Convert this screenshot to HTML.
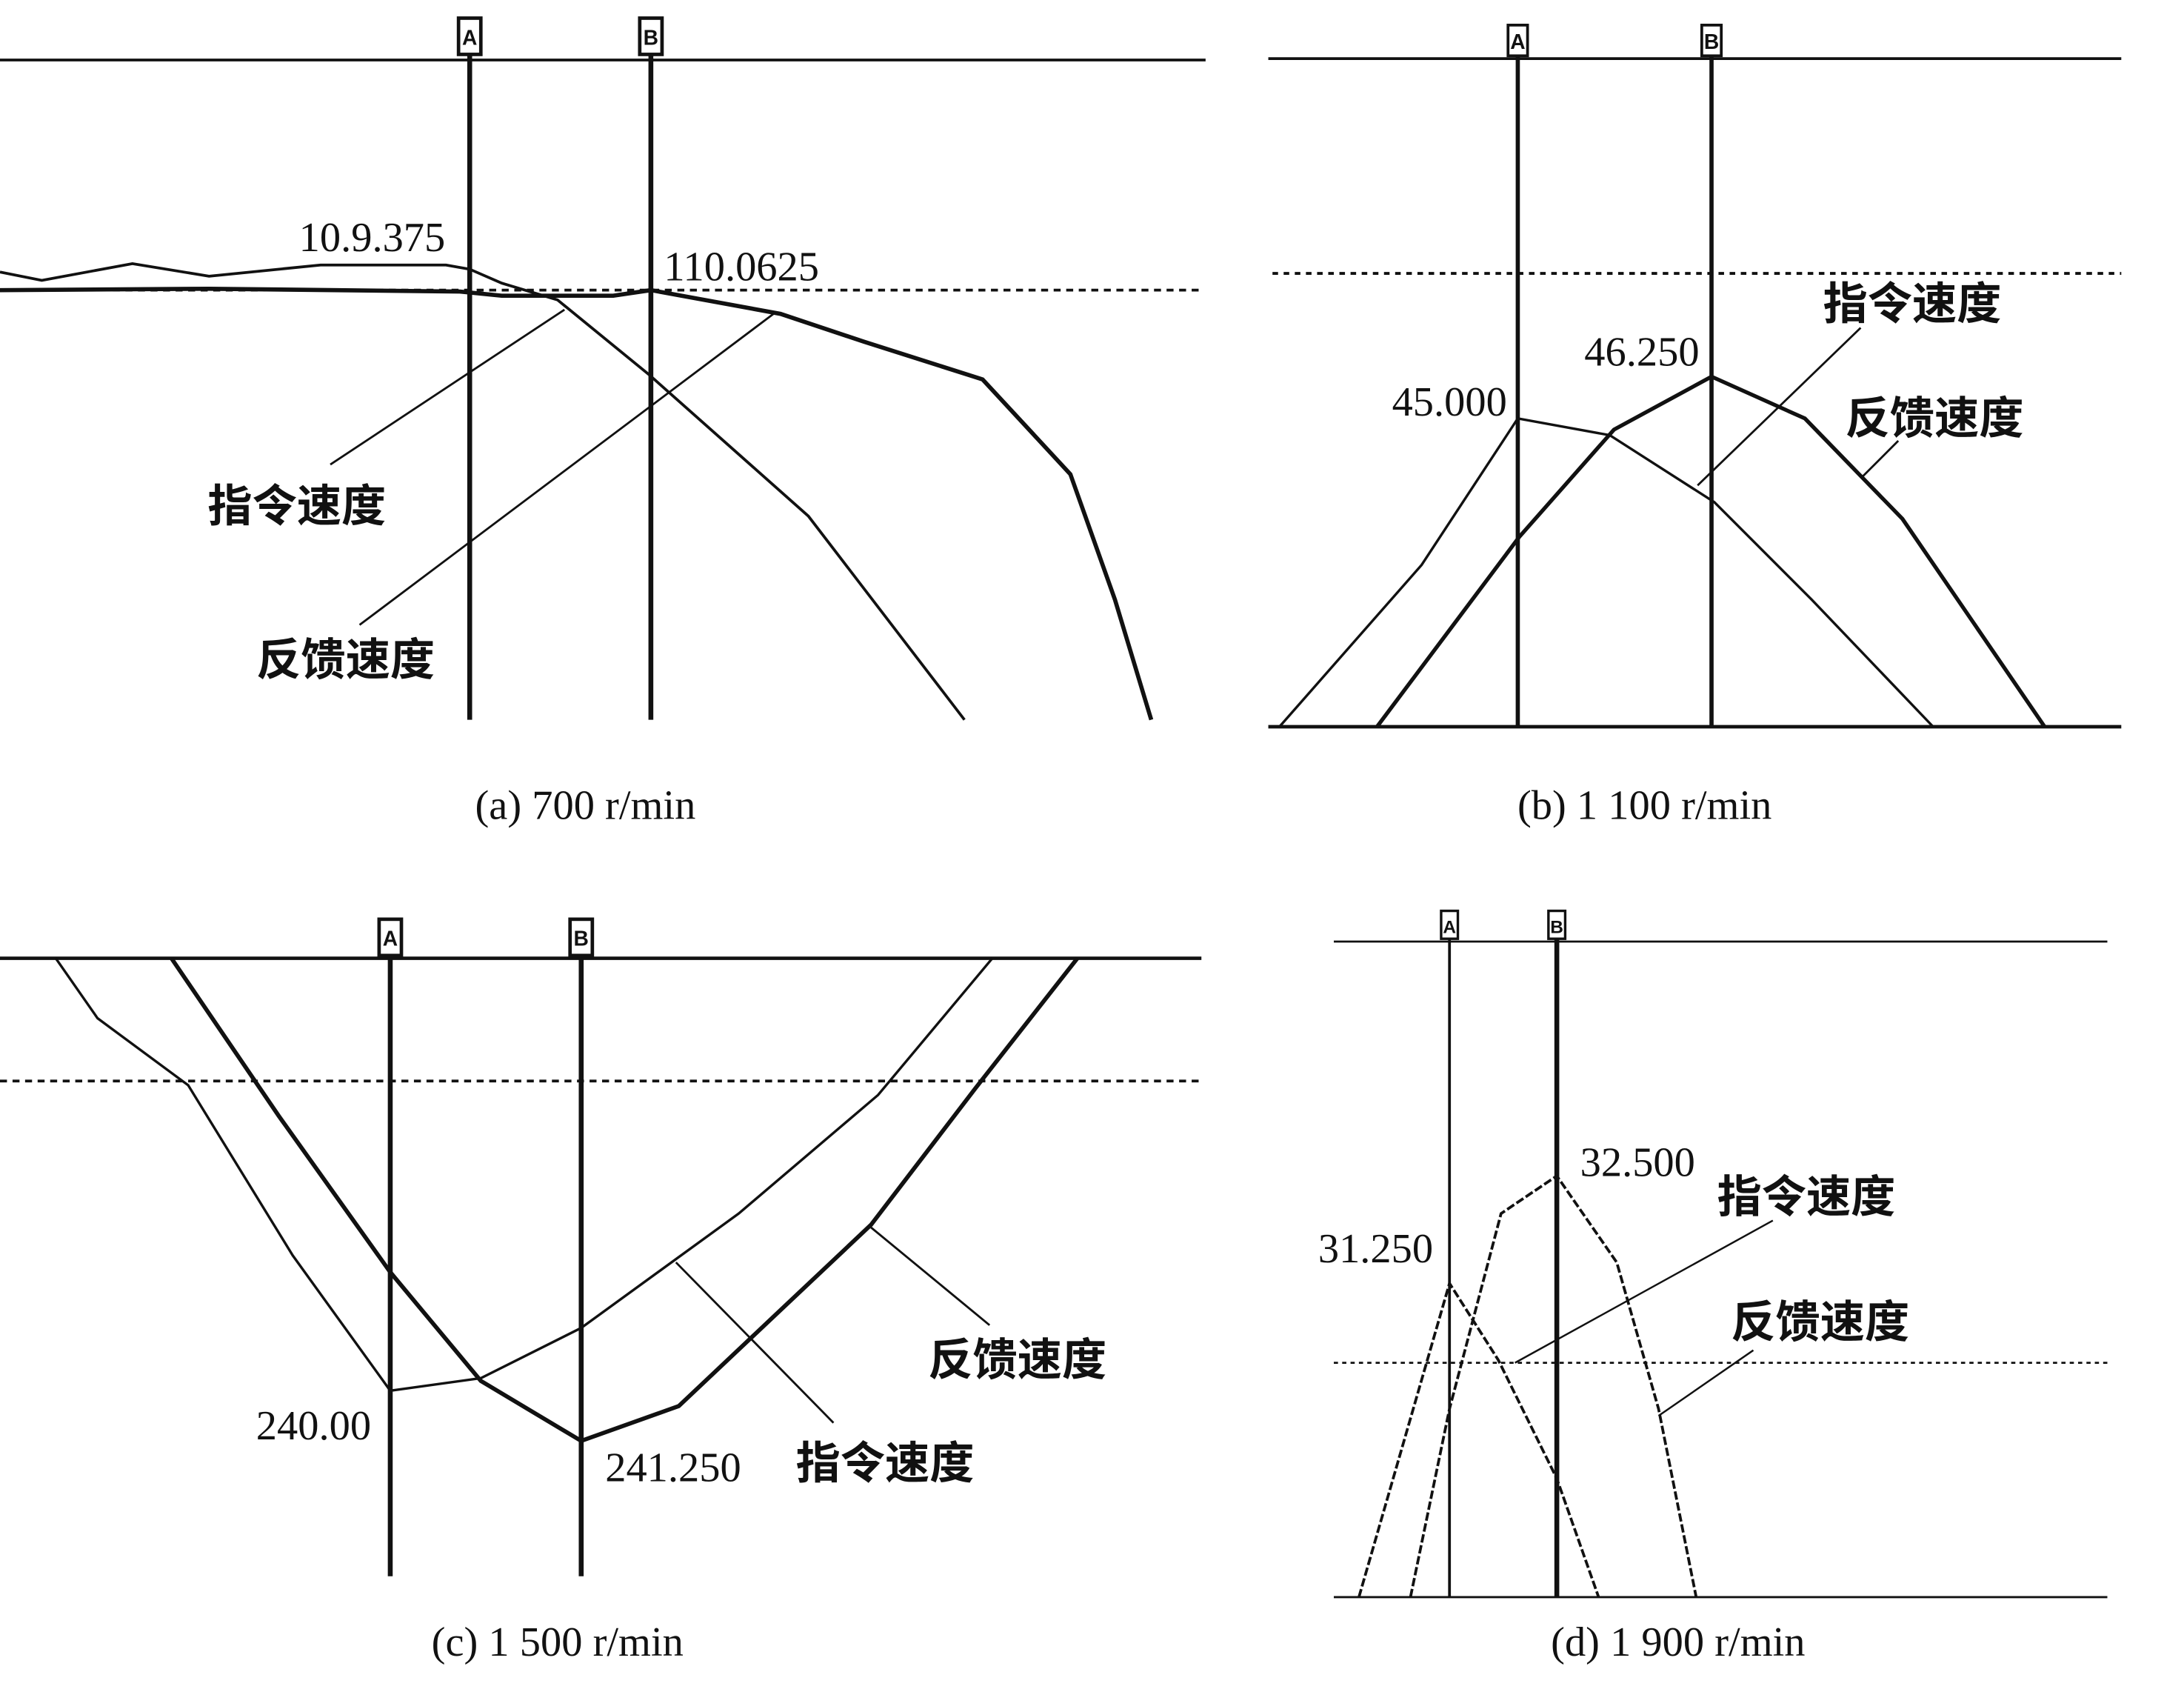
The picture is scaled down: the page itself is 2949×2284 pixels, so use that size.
<!DOCTYPE html>
<html><head><meta charset="utf-8"><style>
html,body{margin:0;padding:0;background:#fff;}
svg{display:block;}
.t{font-family:"Liberation Serif",serif;font-size:30px;fill:#111;}
.c{font-family:"Liberation Sans","Noto Sans CJK SC",sans-serif;font-size:32px;font-weight:bold;fill:#111;}
.mk{font-family:"Liberation Sans",sans-serif;font-size:15px;font-weight:bold;fill:#111;}
</style></head><body>
<svg width="2949" height="2284" viewBox="0 0 1567 1213" preserveAspectRatio="none" xmlns="http://www.w3.org/2000/svg">
<g fill="none" stroke="#111">
<line x1="0" y1="43" x2="865" y2="43" stroke-width="2"/>
<line x1="337" y1="40" x2="337" y2="516" stroke-width="3.5"/>
<line x1="467" y1="40" x2="467" y2="516" stroke-width="3.5"/>
<line x1="0" y1="208" x2="862" y2="208" stroke-width="2" stroke-dasharray="5,4"/>
<polyline stroke-width="2" points="0,195 30,201 95,189 150,198 230,190 320,190 337,193 360,203 400,215 465,268 580,370 692,516"/>
<polyline stroke-width="3" points="0,208 150,207 330,209 360,212 440,212 467,208 560,225 620,245 705,272 768,340 800,430 826,516"/>
<line x1="237" y1="333" x2="405" y2="222" stroke-width="1.5"/>
<line x1="258" y1="448" x2="555" y2="225" stroke-width="1.5"/>
<line x1="910" y1="42" x2="1522" y2="42" stroke-width="2"/>
<line x1="910" y1="521" x2="1522" y2="521" stroke-width="2.5"/>
<line x1="1089" y1="40" x2="1089" y2="521" stroke-width="3"/>
<line x1="1228" y1="40" x2="1228" y2="521" stroke-width="3"/>
<line x1="913" y1="196" x2="1522" y2="196" stroke-width="2" stroke-dasharray="4,4"/>
<polyline stroke-width="1.8" points="918,521 1020,405 1089,300 1155,312 1230,360 1300,430 1387,521"/>
<polyline stroke-width="2.8" points="988,521 1090,385 1158,308 1228,270 1295,300 1365,372 1467,521"/>
<line x1="1218" y1="348" x2="1335" y2="235" stroke-width="1.5"/>
<line x1="1336" y1="342" x2="1362" y2="316" stroke-width="1.5"/>
<line x1="0" y1="687" x2="862" y2="687" stroke-width="2.5"/>
<line x1="280" y1="685" x2="280" y2="1130" stroke-width="3.5"/>
<line x1="417" y1="685" x2="417" y2="1130" stroke-width="3.5"/>
<line x1="0" y1="775" x2="862" y2="775" stroke-width="2" stroke-dasharray="5,4"/>
<polyline stroke-width="1.8" points="40,687 70,730 135,778 210,900 280,997 345,988 417,952 530,870 630,785 712,687"/>
<polyline stroke-width="3" points="123,687 200,800 280,912 345,990 417,1033 487,1008 625,878 700,780 773,687"/>
<line x1="625" y1="880" x2="710" y2="950" stroke-width="1.5"/>
<line x1="485" y1="905" x2="598" y2="1020" stroke-width="1.5"/>
<line x1="957" y1="675" x2="1512" y2="675" stroke-width="1.5"/>
<line x1="957" y1="1145" x2="1512" y2="1145" stroke-width="1.5"/>
<line x1="1040" y1="673" x2="1040" y2="1145" stroke-width="2"/>
<line x1="1117" y1="673" x2="1117" y2="1145" stroke-width="3.5"/>
<line x1="957" y1="977" x2="1512" y2="977" stroke-width="1.5" stroke-dasharray="3,3"/>
<polyline stroke-width="2" stroke-dasharray="6,2" points="975,1145 1040,920 1075,975 1117,1060 1147,1145"/>
<polyline stroke-width="2" stroke-dasharray="6,2" points="1012,1145 1040,1010 1077,870 1117,843 1160,905 1190,1010 1217,1145"/>
<line x1="1087" y1="977" x2="1272" y2="875" stroke-width="1.3"/>
<line x1="1190" y1="1015" x2="1258" y2="968" stroke-width="1.3"/>
<rect x="329" y="13" width="16" height="26" fill="#fff" stroke-width="2.5"/>
<rect x="459" y="13" width="16" height="26" fill="#fff" stroke-width="2.5"/>
<rect x="1082" y="18" width="14" height="22" fill="#fff" stroke-width="2"/>
<rect x="1221" y="18" width="14" height="22" fill="#fff" stroke-width="2"/>
<rect x="272" y="659" width="16" height="26" fill="#fff" stroke-width="2.5"/>
<rect x="409" y="659" width="16" height="26" fill="#fff" stroke-width="2.5"/>
<rect x="1034" y="653" width="12" height="20" fill="#fff" stroke-width="1.8"/>
<rect x="1111" y="653" width="12" height="20" fill="#fff" stroke-width="1.8"/>
</g>
<g text-anchor="middle">
<text class="mk" x="337" y="32">A</text><text class="mk" x="467" y="32">B</text>
<text class="mk" x="1089" y="35">A</text><text class="mk" x="1228" y="35">B</text>
<text class="mk" x="280" y="678">A</text><text class="mk" x="417" y="678">B</text>
<text class="mk" x="1040" y="669" style="font-size:13px">A</text><text class="mk" x="1117" y="669" style="font-size:13px">B</text>
<text class="t" x="267" y="180">10.9.375</text>
<text class="t" x="532" y="201">110.0625</text>
<text class="c" x="213" y="374">指令速度</text>
<text class="c" x="248" y="484">反馈速度</text>
<text class="t" x="420" y="587">(a) 700 r/min</text>
<text class="t" x="1040" y="298">45.000</text>
<text class="t" x="1178" y="262">46.250</text>
<text class="c" x="1372" y="229">指令速度</text>
<text class="c" x="1388" y="311">反馈速度</text>
<text class="t" x="1180" y="587">(b) 1 100 r/min</text>
<text class="t" x="225" y="1032">240.00</text>
<text class="t" x="483" y="1062">241.250</text>
<text class="c" x="730" y="986">反馈速度</text>
<text class="c" x="635" y="1060">指令速度</text>
<text class="t" x="400" y="1187">(c) 1 500 r/min</text>
<text class="t" x="987" y="905">31.250</text>
<text class="t" x="1175" y="843">32.500</text>
<text class="c" x="1296" y="869">指令速度</text>
<text class="c" x="1306" y="959">反馈速度</text>
<text class="t" x="1204" y="1187">(d) 1 900 r/min</text>
</g>
</svg>
</body></html>
